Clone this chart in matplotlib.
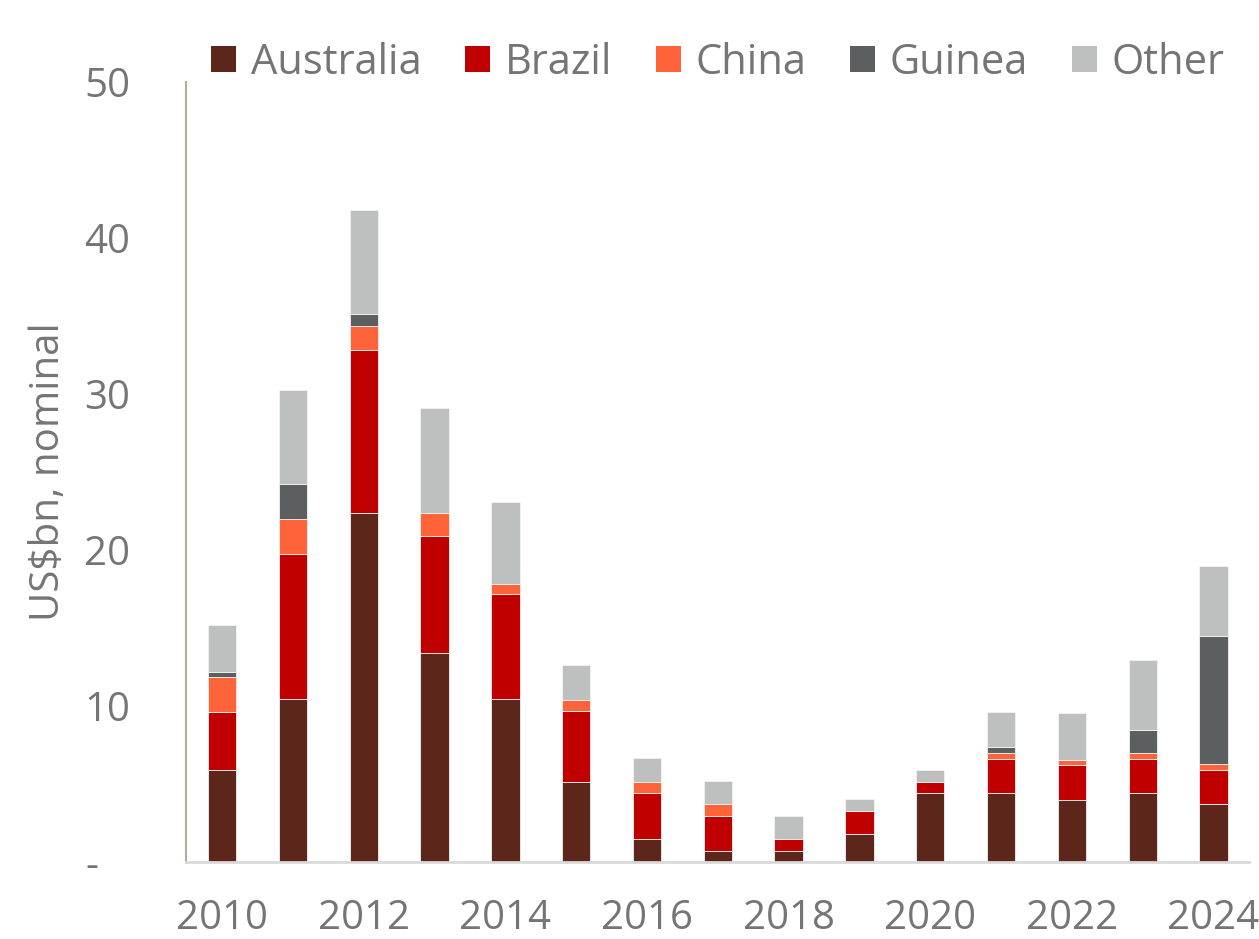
import numpy as np
import matplotlib
matplotlib.use('Agg')
from matplotlib import pyplot as plt
from matplotlib.patches import Patch

# Dados (US$bn, nominal)
years = list(range(2010, 2025))
australia = [5.9, 10.45, 22.4, 13.4, 10.45, 5.15, 1.45, 0.7, 0.7, 1.8, 4.4, 4.4, 4.0, 4.4, 3.7]
brazil = [3.7, 9.3, 10.45, 7.5, 6.7, 4.5, 2.95, 2.25, 0.75, 1.5, 0.75, 2.2, 2.2, 2.2, 2.2]
china = [2.25, 2.25, 1.5, 1.5, 0.7, 0.75, 0.75, 0.75, 0.0, 0.0, 0.0, 0.4, 0.37, 0.4, 0.37]
guinea = [0.32, 2.25, 0.75, 0.0, 0.0, 0.0, 0.0, 0.0, 0.0, 0.0, 0.0, 0.35, 0.0, 1.47, 8.2]
other = [3.0, 6.0, 6.7, 6.7, 5.25, 2.25, 1.5, 1.5, 1.5, 0.75, 0.75, 2.25, 3.0, 4.5, 4.5]

series = ['Australia', 'Brazil', 'China', 'Guinea', 'Other']
values = [australia, brazil, china, guinea, other]
colors = ['#5c261b', '#c00000', '#ff6339', '#5b5f5f', '#bec0bf']

text_color = '#757575'
plt.rcParams['font.family'] = ['Open Sans', 'DejaVu Sans']

fig = plt.figure(figsize=(12.59, 9.39), dpi=100)
ax = fig.add_axes([0.1477, 0.082, 0.8443, 0.8307])

# Barras empilhadas
bottom = np.zeros(len(years))
for name, vals, col in zip(series, values, colors):
    ax.bar(years, vals, bottom=bottom, width=0.4, color=col,
           edgecolor='#f2f2f2', linewidth=0.6, label=name)
    bottom += np.array(vals)

ax.set_xlim(2009.49, 2024.5)
ax.set_ylim(0, 50)

ax.set_xticks(years[::2])
ax.set_xticklabels([str(y) for y in years[::2]])
ax.set_yticks([0, 10, 20, 30, 40, 50])
# traco do zero alinhado a esquerda como no formato contabil
ax.set_yticklabels(['-   ', '10', '20', '30', '40', '50'])
ax.tick_params(axis='both', length=0, labelsize=29, colors=text_color)
ax.tick_params(axis='x', pad=26)
ax.tick_params(axis='y', pad=40)

ax.set_ylabel('US$bn, nominal', fontsize=29, color=text_color, labelpad=11)

for s in ['top', 'right']:
    ax.spines[s].set_visible(False)
ax.spines['left'].set_color('#b0af9c')
ax.spines['left'].set_linewidth(1.5)
ax.spines['bottom'].set_color('#d9d9d9')
ax.spines['bottom'].set_linewidth(2)

# Legenda no topo
handles = [Patch(facecolor=c, edgecolor='none') for c in colors]
leg = fig.legend(handles, series, loc='center', bbox_to_anchor=(0.57, 0.933),
                 ncol=5, frameon=False, fontsize=30, handlelength=0.6,
                 handleheight=0.6, handletextpad=0.35, columnspacing=1.05)
for t in leg.get_texts():
    t.set_color(text_color)

fig.savefig('out.png', dpi=100)
